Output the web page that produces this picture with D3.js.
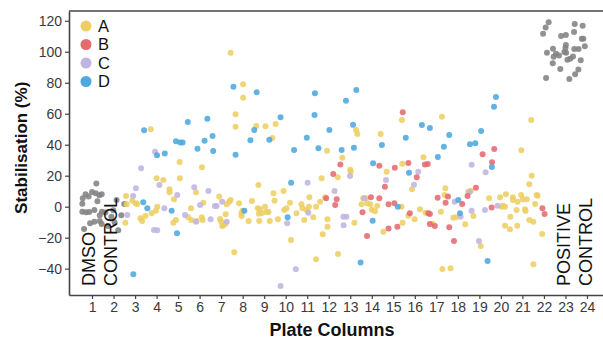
<!DOCTYPE html>
<html>
<head>
<meta charset="utf-8">
<script src="https://cdn.jsdelivr.net/npm/d3@7"></script>
<style>
  html, body { margin: 0; padding: 0; background: #fff; }
  svg { display: block; font-family: "Liberation Sans", Arial, sans-serif; }
</style>
</head>
<body>
<svg id="chart" width="603" height="339"></svg>
<script>
// Plate columns shown on the x axis, and the y tick values
const xTicks = d3.range(1, 25);
const yTicks = [-40, -20, 0, 20, 40, 60, 80, 100, 120];

// Each point: [jittered plate column, stabilisation %]
const seriesA = [
  [3.73,49.9],[5.07,28.8],[7.44,99.4],[8.02,79],[8.02,70.3],[7.67,59.6],[7.67,51.6],[8.63,52.1],[9.06,51.9],
  [9.53,53.4],[9.38,44.3],[11.92,36.1],[13.27,49.5],[13.33,46.9],[12.63,31.6],[6.11,25.4],[13.0,23.9],[14.41,46.9],
  [15.4,55.9],[17.26,58.1],[21.41,55.9],[20.95,36.4],[16.4,31.9],[15.42,27.7],
  [2.58,6.9],[2.87,3.9],[3.03,2.2],[3.1,1.7],[3.25,-7.5],[3.33,-9.2],[3.48,-6],[2.55,-10.3],[2.61,1.5],[3.77,-4.3],
  [4.0,18.3],[4.31,17.2],[4.03,0],[3.97,-2.6],[4.6,11.2],[4.6,9.3],[5.08,18.3],[4.81,4.8],[4.78,-10.3],[4.9,-8.6],
  [5.47,-6.8],[5.61,-8.6],[5.6,-1],[5.83,9.3],
  [6.17,2.6],[6.91,6.5],[7.26,1.5],[7.38,3.2],[7.44,4.3],[6.1,-6.8],[5.86,-9.2],[6.14,-8.6],[6.95,-8],[7.0,-9.5],
  [7.1,-12],[7.05,-12.5],[7.2,-11],[7.21,-4.9],[7.61,-29.4],[7.83,2.2],[7.95,-4.3],[7.99,-2.6],[7.95,-6],[8.28,-9.2],
  [8.43,3.7],[8.73,14],[8.7,-1],[8.8,-1.5],[8.75,-4.5],[8.9,-4],[9.1,-3.5],[9.2,-3.5],[9.04,0],[8.77,-9.2],[9.26,-9.2],
  [9.43,8.6],[9.48,3.9],[9.64,-8.1],[9.9,10.1],[9.93,-2.1],[10.04,-1],[10.2,2.6],[10.25,-21.5],[10.5,-4.3],[10.73,1.5],
  [10.78,-1],[10.86,-8.6],[10.97,-2.1],[11.1,6.1],[11.08,0],[11.28,-6.8],[11.41,0],[11.41,-33.9],[11.67,18.3],[11.6,3.2],
  [11.83,6.1],[11.94,-8.1],[11.94,-12.9],[11.72,-17.8],[12.42,19],[13.02,22.6],[12.43,-30.5],[13.19,-10.3],[13.52,1.5],
  [13.6,5.4],[13.73,5.4],[13.78,2.2],[13.93,1.5],[14.69,22.6],[14.0,-2],[14.15,-3],[14.25,0.5],[14.54,-16.1],
  [15.87,11.2],[15.38,0],[15.43,-10.3],[15.7,-5.8],[15.99,-8.1],[16.24,-1.7],[16.5,-3.9],[16.83,-11],[17.21,-3.2],
  [17.42,11.9],[17.38,7.5],[17.28,-40.2],[17.66,-39.7],[17.79,-7.1],[17.91,-6.8],[18.34,-11.4],[18.48,9.7],[18.6,10.3],
  [18.72,-6],[19.06,-25.4],[19.45,5.4],[19.96,6.1],[20.03,0],[20.1,0.6],[20.19,0],[20.23,8],[20.19,-12.3],[20.42,-14.6],
  [20.44,-6.5],[20.56,6.1],[20.56,4.3],[20.76,-12.3],[20.73,-2.1],[20.78,3.2],[20.94,7.5],[21.02,4.8],[21.12,-1.7],
  [21.15,-2.8],[21.2,4.8],[21.32,-8.6],[21.32,14.4],[21.43,20],[21.51,-9.7],[21.59,1.7],[21.66,7.5],[21.7,7.1],
  [21.51,-37.2],[21.92,-17.6]
];
const seriesB = [
  [12.54,27.3],[14.35,26.5],[15.07,25.2],[15.44,60.9],[19.15,33.8],[19.69,37.2],[19.59,28.6],[15.7,28.2],[16.47,27.3],
  [16.6,27.5],[11.88,5.4],[12.21,21.1],[12.37,4.8],[12.3,1.1],[13.57,-3.6],[13.96,6.1],[14.35,5.4],[13.78,-18.9],
  [14.61,12.9],[14.78,1.5],[15.05,2.2],[14.78,-14],[15.19,-12.9],[16.09,19],[15.77,-4.3],[16.63,-4.3],[16.7,-4.7],
  [16.7,-11.2],[16.93,-12.5],[17.06,5.8],[17.43,2.6],[17.54,6.5],[17.6,-13.3],[17.82,-22.1],[18.2,1.7],[18.45,6.9],
  [18.84,12.3],[19.57,-0.6],[21.93,-1],[22.03,-4.7]
];
const seriesC = [
  [3.93,35.5],[3.28,24.8],[18.64,27.1],[2.91,6.9],[3.04,11.9],[2.64,-5.4],[4.13,14],[4.36,-1],[4.96,7.5],[3.88,-15],
  [4.03,-15.2],[5.32,-5.4],[5.75,12.5],[5.83,-9.7],[6.41,10.1],[6.02,1.1],[6.71,0.5],[6.79,0.5],[7.05,3.2],[6.51,-8.1],
  [7.26,-9.7],[10.07,-10.7],[9.76,-51.2],[10.47,-40.4],[11.02,15.5],[11.05,-3.9],[12.27,10.1],[12.68,-6.5],[12.82,-6.5],
  [12.69,-12],[12.99,19.8],[13.65,5.4],[14.66,17.2],[19.29,22.2],[16.16,22.6],[15.96,14.2],[17.85,3.2],[18.13,-6.5],
  [18.64,-2.6],[18.98,-22.1],[19.26,-2.1],[19.84,0.6],[18.55,9.5]
];
const seriesD = [
  [3.42,49.3],[5.45,54.6],[4.9,42.2],[5.1,41.5],[5.21,41.5],[5.9,37.4],[4.02,33.2],[4.38,34.4],[7.57,77.4],[8.65,73.8],
  [11.36,73.2],[13.28,75.3],[12.8,68.4],[11.34,59.2],[6.36,56.8],[9.76,57.7],[8.54,49.5],[6.6,45.6],[6.23,42.6],
  [6.63,35.9],[7.67,33.5],[8.36,42.8],[9.24,43.2],[10.39,36.6],[10.98,44.5],[11.52,37.7],[12.03,49.5],[12.6,36.6],
  [13.13,52.9],[13.17,38.1],[14.06,28],[14.47,39.8],[16.33,52.7],[16.7,50.8],[15.58,44.5],[17.6,46.3],[17.35,38.7],
  [17.07,32.1],[18.56,40.3],[18.81,40.9],[19.08,48.8],[19.77,70.8],[19.68,64.5],[19.58,25.6],[3.38,2.8],[3.57,-1],
  [4.7,-2.6],[4.95,-17.2],[2.92,-43.6],[8.08,-2.6],[10.25,15.5],[10.09,-6.8],[13.48,-36.1],[14.04,-9],[15.21,0],
  [15.73,21.9],[18.02,4.3],[18.1,-4.3],[19.38,-35]
];
// Control wells: DMSO (columns 1-2) and positive control (columns 23-24)
const dmsoControl = [
  [1.2,15],[1.0,9.5],[0.7,8],[1.17,8.6],[1.45,8],[0.84,6.5],[0.55,1.9],[0.55,-3.2],[0.72,-3.6],[0.87,-3.4],[1.11,-2.1],
  [1.46,-3.2],[1.36,-5.5],[1.62,-3.8],[0.91,-10.7],[1.11,-9.7],[1.36,-9.2],[1.45,-11.2],[0.63,-14.4],[2.22,-15.2],
  [1.9,-6.5],[1.99,-2.3],[2.14,4.3],[2.36,-5.5],[2.5,1.7],[1.34,7.4],[0.57,5.4],[1.75,-12.5],[2.05,-10],[1.25,3.5]
];
const positiveControl = [
  [22.22,119],[22.08,115.7],[21.96,111.6],[23.43,117.9],[23.8,116.8],[23.4,112.7],[22.8,110.1],[23.02,110.8],
  [23.76,108.4],[23.83,108.4],[23.9,103.5],[23.02,104.3],[22.42,101.9],[22.14,99.4],[22.56,98.7],[22.45,96.8],
  [22.95,99.8],[23.03,99.4],[23.41,101.7],[23.61,101.7],[23.35,97],[23.22,95.5],[23.09,94.8],[23.71,94.5],
  [22.41,92.5],[22.76,88.8],[23.6,88.6],[23.45,85.4],[23.18,82.4],[22.1,83],[23.0,102.5],[22.7,97.5]
];

const legendKeys = ["A", "B", "C", "D"];
const colors = { A: "#EDCF63", B: "#E56A6E", C: "#C2B4E2", D: "#4DA7E0", ctrl: "#828282" };

const svg = d3.select("#chart");
const x = d3.scaleLinear().domain([-0.07, 25.07]).range([69, 610]);
const y = d3.scaleLinear().domain([-57, 126.3]).range([295, 11]);

// Axes
const yAxis = svg.append("g")
  .attr("transform", `translate(${x.range()[0]},0)`)
  .call(d3.axisLeft(y).tickValues(yTicks).tickSize(4).tickSizeOuter(0).tickPadding(3));
const xAxis = svg.append("g")
  .attr("transform", `translate(0,${y.range()[0]})`)
  .call(d3.axisBottom(x).tickValues(xTicks).tickSize(4).tickSizeOuter(0).tickPadding(3));
[yAxis, xAxis].forEach(g => {
  g.select(".domain").attr("stroke", "#444").attr("stroke-width", 1.6);
  g.selectAll(".tick line").attr("stroke", "#444").attr("stroke-width", 1.2);
  g.selectAll(".tick text").attr("fill", "#3a3a3a").style("font-size", "14px")
    .style("font-family", "'Liberation Sans', Arial, sans-serif");
});

// Top border of the panel
svg.append("line")
  .attr("x1", x.range()[0]).attr("x2", x.range()[1])
  .attr("y1", y.range()[1]).attr("y2", y.range()[1])
  .attr("stroke", "#444").attr("stroke-width", 1.6);

// Points
const groups = [
  { data: dmsoControl, color: colors.ctrl },
  { data: positiveControl, color: colors.ctrl },
  { data: seriesA, color: colors.A },
  { data: seriesC, color: colors.C },
  { data: seriesB, color: colors.B },
  { data: seriesD, color: colors.D }
];
groups.forEach(gr => {
  svg.append("g").selectAll("circle").data(gr.data).join("circle")
    .attr("cx", d => x(d[0])).attr("cy", d => y(d[1]))
    .attr("r", 3).attr("fill", gr.color).attr("fill-opacity", 0.88);
});

// Control labels
function controlLabel(col, lines) {
  const t = svg.append("text")
    .attr("transform", `translate(${x(col)},${y(-51.2)}) rotate(-90)`)
    .style("font-size", "18px").attr("fill", "#111");
  lines.forEach((s, i) => {
    t.append("tspan").attr("x", 0).attr("dy", i === 0 ? "0.35em" : "1.22em").text(s);
  });
}
controlLabel(0.85, ["DMSO", "CONTROL"]);
controlLabel(22.93, ["POSITIVE", "CONTROL"]);

// Legend
const legend = svg.append("g");
legendKeys.forEach((k, i) => {
  const row = legend.append("g").attr("transform", `translate(86,${26 + i * 18.5})`);
  row.append("circle").attr("r", 5.5).attr("fill", colors[k]);
  row.append("text").attr("x", 12).attr("dy", "0.36em").style("font-size", "16.5px").attr("fill", "#111").text(k);
});

// Axis titles
svg.append("text")
  .attr("x", 332).attr("y", 336).attr("text-anchor", "middle")
  .style("font-size", "18px").style("font-weight", "bold").attr("fill", "#111")
  .text("Plate Columns");
svg.append("text")
  .attr("transform", `translate(27,${y(38)}) rotate(-90)`).attr("text-anchor", "middle")
  .style("font-size", "17px").style("font-weight", "bold").attr("fill", "#111")
  .text("Stabilisation (%)");
</script>
</body>
</html>
